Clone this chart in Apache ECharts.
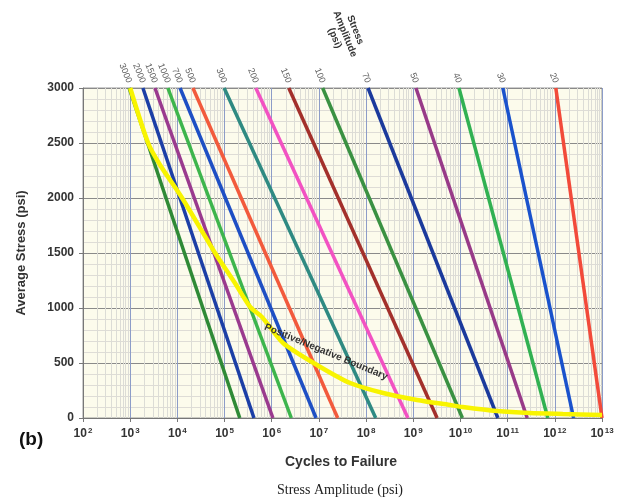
<!DOCTYPE html>
<html>
<head>
<meta charset="utf-8">
<script src="https://cdn.jsdelivr.net/npm/echarts@6/dist/echarts.min.js"></script>
<style>html,body{margin:0;padding:0;background:#fff}#c{width:617px;height:504px}</style>
</head>
<body>
<div id="c"></div>
<script>
// Stress amplitude (psi) for each line
const amplitudes = ['3000','2000','1500','1000','700','500','300','200','150','100','70','50','40','30','20'];
// Cycles to failure at average stress 3000 psi (top of each line)
const cyclesAtTop = [9.5e2, 1.86e3, 3.35e3, 6.3e3, 1.14e4, 2.14e4, 9.8e4, 4.6e5, 2.3e6, 1.2e7, 1.1e8, 1.14e9, 9.3e9, 7.9e10, 1.05e12];
// Cycles to failure at average stress 0 psi (bottom of each line)
const cyclesAtZero = [2.1e5, 4.2e5, 1.06e6, 2.6e6, 8.7e6, 2.5e7, 1.6e8, 7.7e8, 3.2e9, 1.1e10, 6.2e10, 2.6e11, 7.1e11, 2.5e12, 1.0e13];
const lineColors = ['#2f8a36','#1c3fa6','#9a3a8e','#3db54c','#1e4fc4','#f25a3c','#2f8a82','#f252c2','#a3302b','#3a9142','#1b3a9c','#983a88','#31b152','#1a52cc','#f24a3a'];
// Positive/Negative boundary curve
const boundaryCycles = [1.0e3, 2.4e3, 4.3e3, 1.26e4, 6.3e4, 1.66e5, 3.5e5, 6.2e5, 1.74e6, 9.1e6, 4.6e7, 2.3e8, 1.2e9, 6.0e9, 1.12e10, 5.9e10, 2.95e11, 1.48e12, 1.0e13];
const boundaryStress = [3000, 2500, 2300, 2000, 1500, 1227, 1009, 918, 682, 482, 318, 227, 164, 118, 100, 64, 45, 36, 27];
// Axis ticks: decade exponents on x, stress on y
const xExpMin = 2, xExpMax = 13;
const yTicks = [0, 500, 1000, 1500, 2000, 2500, 3000];

const lg = Math.log10;
const chart = echarts.init(document.getElementById('c'), null, {renderer: 'canvas'});

// minor vertical grid positions (log10 of 2..9 × 10^d)
const minorX = [];
for (let d = xExpMin; d < xExpMax; d++) for (let k = 2; k <= 9; k++) minorX.push({xAxis: d + lg(k)});

const series = [];
series.push({
  type: 'line', data: [[xExpMin, 0]], symbol: 'none', lineStyle: {opacity: 0}, silent: true, z: 0,
  markLine: {silent: true, z: 0, symbol: 'none', label: {show: false}, animation: false,
    lineStyle: {color: '#dcdcd6', width: 1, type: 'solid'}, data: minorX}
});
amplitudes.forEach((a, i) => {
  series.push({
    type: 'line', name: a, symbol: 'none', z: 3, animation: false,
    lineStyle: {width: 3.5, color: lineColors[i]},
    data: [[lg(cyclesAtTop[i]), 3000], [lg(cyclesAtZero[i]), 0]]
  });
});
series.push({
  type: 'scatter', symbol: 'circle', symbolSize: 1, z: 5, animation: false,
  itemStyle: {color: 'rgba(0,0,0,0)'},
  data: amplitudes.map((a, i) => ({value: [lg(cyclesAtTop[i]), 3000], name: a})),
  label: {show: true, formatter: p => p.name, position: 'top', distance: 5, rotate: -68,
    align: 'right', verticalAlign: 'middle', fontSize: 9, fontFamily: 'Liberation Sans, Arial', color: '#333'}
});
series.push({
  type: 'line', name: 'boundary', smooth: 0.25, symbol: 'none', z: 4, animation: false,
  lineStyle: {width: 4.5, color: '#f8f400'},
  data: boundaryCycles.map((c, i) => [lg(c), boundaryStress[i]])
});

chart.setOption({
  animation: false,
  backgroundColor: '#ffffff',
  grid: {left: 83, right: 15, top: 88, bottom: 86, show: true, backgroundColor: '#fcfbec', borderColor: '#9a9a9a', borderWidth: 1},
  xAxis: {
    type: 'value', min: xExpMin, max: xExpMax, interval: 1,
    axisLine: {show: true, onZero: false, lineStyle: {color: '#777'}},
    axisTick: {show: true, length: 4, lineStyle: {color: '#777'}},
    splitLine: {show: true, lineStyle: {color: '#8c9cc8', width: 1}},
    axisLabel: {
      margin: 9,
      formatter: v => '{b|10}{s|' + Math.round(v) + '}',
      rich: {
        b: {fontSize: 12, fontWeight: 'bold', color: '#333', fontFamily: 'Liberation Sans, Arial', lineHeight: 14},
        s: {fontSize: 8, fontWeight: 'bold', color: '#333', fontFamily: 'Liberation Sans, Arial', verticalAlign: 'top', lineHeight: 14, padding: [0, 0, 4, 1]}
      }
    }
  },
  yAxis: {
    type: 'value', min: yTicks[0], max: yTicks[yTicks.length - 1], interval: 500,
    axisLine: {show: true, lineStyle: {color: '#777'}},
    axisTick: {show: true, length: 4, lineStyle: {color: '#777'}},
    axisLabel: {fontSize: 12, fontWeight: 'bold', color: '#333', fontFamily: 'Liberation Sans, Arial', margin: 9, formatter: v => String(v)},
    splitLine: {show: true, lineStyle: {color: '#8a8a8a', width: 1}},
    minorTick: {show: false, splitNumber: 5},
    minorSplitLine: {show: true, lineStyle: {color: '#dedcd6', width: 1}}
  },
  series: series,
  graphic: [
    {type: 'text', position: [21, 253], rotation: Math.PI / 2,
      style: {text: 'Average Stress (psi)', fontSize: 13, fontWeight: 'bold', fill: '#333', fontFamily: 'Liberation Sans, Arial', align: 'center', verticalAlign: 'middle'}},
    {type: 'text', position: [19, 440], style: {text: '(b)', fontSize: 19, fontWeight: 'bold', fill: '#111', fontFamily: 'Liberation Sans, Arial', align: 'left', verticalAlign: 'middle'}},
    {type: 'text', position: [341, 462], style: {text: 'Cycles to Failure', fontSize: 14, fontWeight: 'bold', fill: '#333', fontFamily: 'Liberation Sans, Arial', align: 'center', verticalAlign: 'middle'}},
    {type: 'text', position: [340, 490], style: {text: 'Stress Amplitude (psi)', fontSize: 14, fill: '#222', fontFamily: 'Liberation Serif, Times New Roman', align: 'center', verticalAlign: 'middle'}},
    {type: 'text', position: [345, 34], rotation: -68 * Math.PI / 180,
      style: {text: 'Stress\nAmplitude\n(psi)', fontSize: 10, fontWeight: 'bold', fill: '#333', fontFamily: 'Liberation Sans, Arial', align: 'center', verticalAlign: 'middle', lineHeight: 11}},
    {type: 'text', position: [326, 352], rotation: -22.5 * Math.PI / 180, z: 10,
      style: {text: 'Positive/Negative Boundary', fontSize: 10, fontWeight: 'bold', fill: '#333', fontFamily: 'Liberation Sans, Arial', align: 'center', verticalAlign: 'middle'}}
  ]
});
</script>
</body>
</html>
